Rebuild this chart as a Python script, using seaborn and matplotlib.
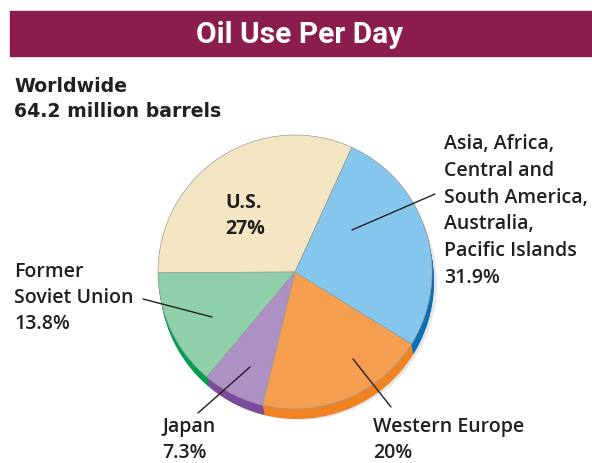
import matplotlib
matplotlib.use("Agg")
import numpy as np
import seaborn as sns
import matplotlib.pyplot as plt
from matplotlib.patches import Rectangle

sns.set_theme(style="white")
plt.rcParams['font.family'] = ['Open Sans', 'DejaVu Sans']

regions = ['U.S.', 'Former\nSoviet Union', 'Japan', 'Western Europe',
           'Asia, Africa,\nCentral and\nSouth America,\nAustralia,\nPacific Islands']
share_label = ['27%', '13.8%', '7.3%', '20%', '31.9%']
# wedge sizes as drawn in the picture (the US and Asia wedges are swapped there)
share_drawn = [31.9, 13.8, 7.3, 20.0, 27.0]
face_colors = ['#F5E6C3', '#8FCFAA', '#AE91C4', '#F59E4F', '#85C6EC']
rim_colors = ['#E0CFA0', '#00A04E', '#7B4A9C', '#F08222', '#0B6FB5']

H = 464
fig = plt.figure(figsize=(5.92, 4.64), dpi=100)
ax = fig.add_axes([0, 0, 1, 1])

cx, cy, r = 295, H - 273, 137
start = 65.5

# soft shadow
ax.pie(share_drawn, colors=['#BBBBBB'] * 5, startangle=start, radius=r,
       center=(cx + 5, cy - 11), wedgeprops=dict(linewidth=0, alpha=0.35), frame=True)
# extruded rim
for k in np.linspace(10, 1, 10):
    ax.pie(share_drawn, colors=rim_colors, startangle=start, radius=r,
           center=(cx + 0.2 * k, cy - k), wedgeprops=dict(linewidth=0), frame=True)
# top face
ax.pie(share_drawn, colors=face_colors, startangle=start, radius=r,
       center=(cx, cy), wedgeprops=dict(linewidth=0.5, edgecolor='#9A9A9A'), frame=True)

ax.set_xlim(0, 592)
ax.set_ylim(0, H)
ax.set_aspect('equal')
ax.axis('off')

# title bar
ax.add_patch(Rectangle((10, H - 57), 582, 45, color='#8B1C4E', zorder=5))
ax.text(300, H - 35, 'Oil Use Per Day', color='white', fontsize=21.5, fontweight='semibold',
        ha='center', va='center', zorder=6,
        family=['DejaVu Sans Condensed', 'Liberation Sans Narrow', 'Roboto', 'DejaVu Sans'])

ax.text(14, H - 99, 'Worldwide\n64.2 million barrels', fontsize=13.6, fontweight='bold',
        color='#231F20', ha='left', va='center', linespacing=1.35, family=['DejaVu Sans'])

txt = dict(fontsize=14, color='#231F20', linespacing=1.4, fontweight='semibold')
ax.text(225, H - 216, regions[0] + '\n' + share_label[0], ha='left', va='center',
        **{**txt, 'fontweight': 'bold'})
ax.text(14, H - 298, regions[1] + '\n' + share_label[1], ha='left', va='center', **txt)
ax.text(162, H - 440, regions[2] + '\n' + share_label[2], ha='left', va='center', **txt)
ax.text(373, H - 440, regions[3] + '\n' + share_label[3], ha='left', va='center', **txt)
ax.text(444, H - 211, regions[4] + '\n' + share_label[4], ha='left', va='center',
        **{**txt, 'linespacing': 1.45})

line = dict(color='#231F20', linewidth=1)
ax.plot([352, 435], [H - 231, H - 195], **line)
ax.plot([143, 212], [H - 300, H - 318], **line)
ax.plot([198, 250], [H - 414, H - 368], **line)
ax.plot([353, 391], [H - 360, H - 408], **line)

fig.savefig('out.png', dpi=100)
